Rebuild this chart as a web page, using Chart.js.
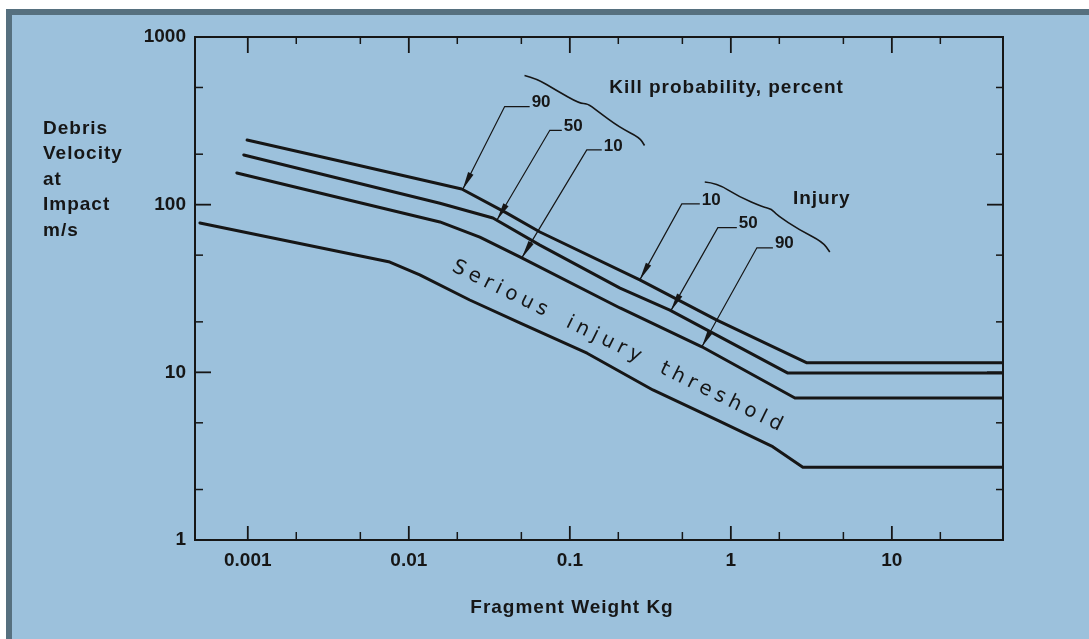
<!DOCTYPE html>
<html>
<head>
<meta charset="utf-8">
<script src="https://cdn.jsdelivr.net/npm/chart.js@4.4.0/dist/chart.umd.min.js"></script>
<style>
  html, body { margin: 0; padding: 0; background: #fff; }
  body { position: relative; width: 1089px; height: 639px; overflow: hidden; }
  .frame { position: absolute; left: 6px; top: 9px; width: 1100px; height: 660px;
           background: #9cc1dc; border-left: 6px solid #56707f; border-top: 6px solid #56707f; }
  .wrap { position: absolute; left: 0; top: 0; width: 1089px; height: 639px; }
</style>
</head>
<body>
<div class="frame"></div>
<div class="wrap"><canvas id="chart"></canvas></div>
<script>
// fragment weight (kg) and impact velocity (m/s)
const kill90W = [0.00099, 0.00372, 0.0213, 0.0406, 0.0652, 0.272, 0.819, 2.97, 49];
const kill90V = [243, 182, 124, 89, 68.7, 35.6, 20.5, 11.4, 11.4];
const kill50W = [0.000944, 0.0156, 0.0333, 0.0652, 0.205, 0.418, 2.26, 49];
const kill50V = [198, 102, 83.2, 57.4, 31.8, 23.5, 9.9, 9.9];
const kill10W = [0.000855, 0.0156, 0.0276, 0.0489, 0.205, 0.661, 2.50, 49];
const kill10V = [154.6, 78.9, 64.1, 48.8, 24.2, 14.2, 7.03, 7.03];
const threshW = [0.000504, 0.00762, 0.0117, 0.0239, 0.0489, 0.128, 0.328, 0.855, 1.82, 2.80, 49];
const threshV = [77.8, 45.5, 38.1, 27.0, 19.7, 13.0, 7.85, 5.1, 3.6, 2.72, 2.72];

// axes
const xMajorTicks = [0.001, 0.01, 0.1, 1, 10];
const xTickLabels = ['0.001', '0.01', '0.1', '1', '10'];
const xMinorTicks = [0.002, 0.005, 0.02, 0.05, 0.2, 0.5, 2, 5, 20];
const yMajorTicks = [1, 10, 100, 1000];
const yTickLabels = ['1', '10', '100', '1000'];
const yMinorTicks = [2, 5, 20, 50, 200, 500];

const INK = '#161616';
const BOLD = '"Liberation Sans", Arial, sans-serif';

const curves = {
    k90: [kill90W, kill90V],
    k50: [kill50W, kill50V],
    k10: [kill10W, kill10V],
    thr: [threshW, threshV]
};

// log-log interpolation along a curve
function valueAt(key, w) {
    const [ws, vs] = curves[key];
    const lw = Math.log10(w);
    for (let i = 0; i < ws.length - 1; i++) {
        const a = Math.log10(ws[i]), b = Math.log10(ws[i + 1]);
        if (lw >= a && lw <= b) {
            const t = (lw - a) / (b - a);
            const va = Math.log10(vs[i]), vb = Math.log10(vs[i + 1]);
            return Math.pow(10, va + t * (vb - va));
        }
    }
    return vs[vs.length - 1];
}

// leader lines: tip on a curve, elbow offset, short bar, label
const leaders = [
    { key: 'k90', w: 0.0216, dx: 42, dy: -83, bar: 25, text: '90' },
    { key: 'k50', w: 0.0352, dx: 53, dy: -90, bar: 12, text: '50' },
    { key: 'k10', w: 0.0503, dx: 65, dy: -108, bar: 15, text: '10' },
    { key: 'k90', w: 0.272, dx: 42, dy: -76, bar: 18, text: '10' },
    { key: 'k50', w: 0.424, dx: 47, dy: -83, bar: 19, text: '50' },
    { key: 'k10', w: 0.661, dx: 55, dy: -99, bar: 16, text: '90' }
];

const notes = [
    { text: 'Kill probability, percent', w: 0.94, v: 500,
      brace: [[-202, -12], [-190, -9], [-170, 3], [-147, 16], [-139, 16], [-130, 23], [-107, 40], [-87, 50], [-82, 58]] },
    { text: 'Injury', w: 3.67, v: 108,
      brace: [[-117, -17], [-105, -16], [-82, -2], [-59, 8], [-50, 10], [-45, 16], [-22, 31], [1, 43], [8, 53]] }
];

const yTitle = ['Debris', 'Velocity', 'at', 'Impact', 'm/s'];

function smoothPath(ctx, pts) {
    ctx.beginPath();
    ctx.moveTo(pts[0][0], pts[0][1]);
    for (let i = 1; i < pts.length - 1; i++) {
        const mx = (pts[i][0] + pts[i + 1][0]) / 2, my = (pts[i][1] + pts[i + 1][1]) / 2;
        ctx.quadraticCurveTo(pts[i][0], pts[i][1], mx, my);
    }
    const last = pts[pts.length - 1];
    ctx.lineTo(last[0], last[1]);
    ctx.stroke();
}

const decor = {
    id: 'decor',
    afterDraw(chart) {
        const { ctx, chartArea: a, scales: { x, y } } = chart;
        ctx.save();
        ctx.strokeStyle = INK;
        ctx.fillStyle = INK;

        // frame
        ctx.lineWidth = 2;
        ctx.strokeRect(a.left, a.top, a.right - a.left, a.bottom - a.top);

        // inward ticks on all four sides
        const tick = (x1, y1, x2, y2, lw) => {
            ctx.lineWidth = lw;
            ctx.beginPath(); ctx.moveTo(x1, y1); ctx.lineTo(x2, y2); ctx.stroke();
        };
        xMajorTicks.forEach(v => {
            const px = x.getPixelForValue(v);
            tick(px, a.bottom, px, a.bottom - 14, 1.8);
            tick(px, a.top, px, a.top + 16, 1.8);
        });
        xMinorTicks.forEach(v => {
            const px = x.getPixelForValue(v);
            tick(px, a.bottom, px, a.bottom - 8, 1.5);
            tick(px, a.top, px, a.top + 7, 1.5);
        });
        yMajorTicks.forEach(v => {
            const py = y.getPixelForValue(v);
            tick(a.left, py, a.left + 16, py, 1.8);
            tick(a.right, py, a.right - 16, py, 1.8);
        });
        yMinorTicks.forEach(v => {
            const py = y.getPixelForValue(v);
            tick(a.left, py, a.left + 8, py, 1.5);
            tick(a.right, py, a.right - 7, py, 1.5);
        });

        // leaders with arrowheads
        ctx.font = 'bold 17px ' + BOLD;
        ctx.textBaseline = 'middle';
        ctx.textAlign = 'left';
        leaders.forEach(l => {
            const tx = x.getPixelForValue(l.w), ty = y.getPixelForValue(valueAt(l.key, l.w));
            const ex = tx + l.dx, ey = ty + l.dy;
            ctx.lineWidth = 1.2;
            ctx.beginPath();
            ctx.moveTo(ex + l.bar, ey); ctx.lineTo(ex, ey); ctx.lineTo(tx, ty);
            ctx.stroke();
            const ang = Math.atan2(ty - ey, tx - ex), c = Math.cos(ang), s = Math.sin(ang);
            const L = 18, W = 3;
            ctx.beginPath();
            ctx.moveTo(tx, ty);
            ctx.lineTo(tx - L * c + W * s, ty - L * s - W * c);
            ctx.lineTo(tx - L * c - W * s, ty - L * s + W * c);
            ctx.closePath();
            ctx.fill();
            ctx.fillText(l.text, ex + l.bar + 2, ey - 4);
        });

        // group titles and braces
        notes.forEach(n => {
            const cx = x.getPixelForValue(n.w), cy = y.getPixelForValue(n.v);
            ctx.font = 'bold 19px ' + BOLD;
            ctx.letterSpacing = '1px';
            ctx.textAlign = 'center';
            ctx.textBaseline = 'middle';
            ctx.fillText(n.text, cx, cy);
            ctx.letterSpacing = '0px';
            ctx.lineWidth = 1.6;
            smoothPath(ctx, n.brace.map(p => [cx + p[0], cy + p[1]]));
        });

        // "Serious injury threshold" along the lowest curve
        {
            const p1 = [x.getPixelForValue(0.05), y.getPixelForValue(valueAt('thr', 0.05))];
            const p2 = [x.getPixelForValue(1.8), y.getPixelForValue(valueAt('thr', 1.8))];
            const ang = Math.atan2(p2[1] - p1[1], p2[0] - p1[0]);
            const bx = x.getPixelForValue(0.178), by = y.getPixelForValue(valueAt('thr', 0.178));
            const off = 21;
            const cx = bx + off * Math.sin(ang), cy = by - off * Math.cos(ang);
            const text = 'Serious injury threshold';
            ctx.font = '20px "DejaVu Sans", sans-serif';
            ctx.wordSpacing = '7px';
            ctx.letterSpacing = '0px';
            const w0 = ctx.measureText(text).width;
            ctx.letterSpacing = ((370 - w0) / text.length).toFixed(2) + 'px';
            ctx.translate(cx, cy);
            ctx.rotate(ang);
            ctx.textAlign = 'center';
            ctx.textBaseline = 'middle';
            ctx.fillText(text, 0, 0);
            ctx.setTransform(1, 0, 0, 1, 0, 0);
            ctx.letterSpacing = '0px';
            ctx.wordSpacing = '0px';
        }

        // axis titles
        ctx.font = 'bold 19px ' + BOLD;
        ctx.letterSpacing = '1px';
        ctx.textAlign = 'left';
        ctx.textBaseline = 'alphabetic';
        yTitle.forEach((t, i) => ctx.fillText(t, 43, 134 + i * 25.4));
        ctx.textAlign = 'center';
        ctx.fillText('Fragment Weight Kg', 572, 613);
        ctx.restore();
    }
};

function line(ws, vs) {
    return {
        data: ws.map((w, i) => ({ x: w, y: vs[i] })),
        borderColor: INK,
        borderWidth: 3,
        pointRadius: 0,
        tension: 0,
        fill: false
    };
}

new Chart(document.getElementById('chart'), {
    type: 'line',
    data: {
        datasets: [
            line(kill90W, kill90V),
            line(kill50W, kill50V),
            line(kill10W, kill10V),
            line(threshW, threshV)
        ]
    },
    options: {
        responsive: true,
        maintainAspectRatio: false,
        animation: false,
        layout: { padding: { left: 0, top: 37, right: 86, bottom: 0 } },
        plugins: { legend: { display: false }, tooltip: { enabled: false } },
        elements: { line: { borderJoinStyle: 'round', borderCapStyle: 'round' } },
        scales: {
            x: {
                type: 'logarithmic',
                min: 0.00047,
                max: 49,
                grid: { display: false, drawTicks: false },
                border: { display: false },
                afterBuildTicks: s => { s.ticks = xMajorTicks.map(v => ({ value: v })); },
                afterFit: s => { s.height = 99; },
                ticks: {
                    autoSkip: false, maxRotation: 0, padding: 9, color: INK,
                    font: { family: BOLD, size: 19, weight: 'bold' },
                    callback: (v, i) => xTickLabels[i]
                }
            },
            y: {
                type: 'logarithmic',
                min: 1,
                max: 1000,
                grid: { display: false, drawTicks: false },
                border: { display: false },
                afterBuildTicks: s => { s.ticks = yMajorTicks.map(v => ({ value: v })); },
                afterFit: s => { s.width = 195; },
                ticks: {
                    autoSkip: false, padding: 9, color: INK,
                    font: { family: BOLD, size: 19, weight: 'bold' },
                    callback: (v, i) => yTickLabels[i]
                }
            }
        }
    },
    plugins: [decor]
});
</script>
</body>
</html>
